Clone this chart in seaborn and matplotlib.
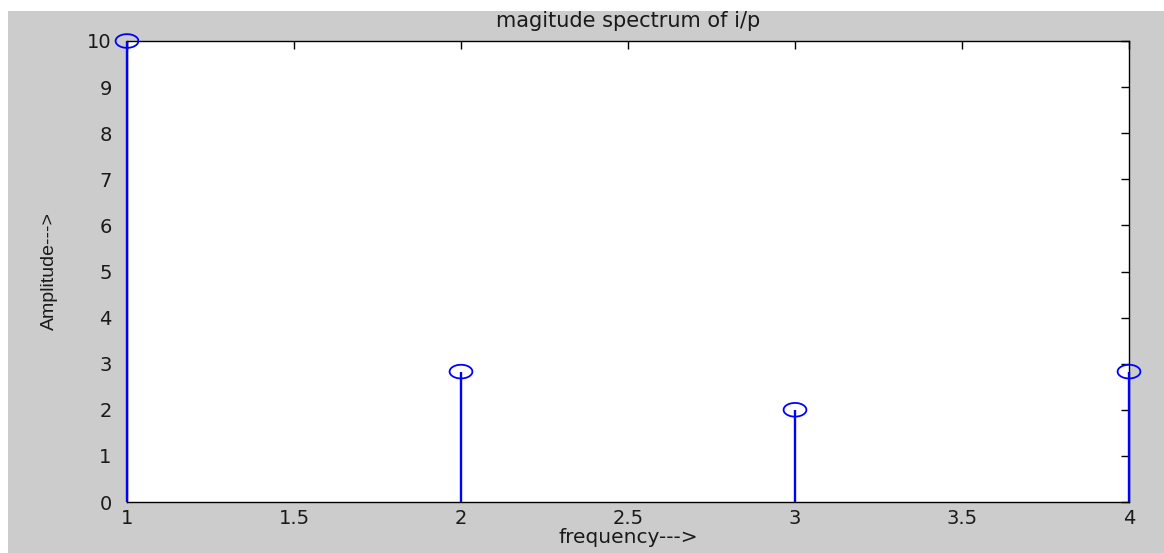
import numpy as np
import pandas as pd
import matplotlib
matplotlib.use("Agg")
import matplotlib.pyplot as plt
from matplotlib.patches import Rectangle
import seaborn as sns

frequency = [1, 2, 3, 4]
amplitude = [10.0, 2.8284, 2.0, 2.8284]
x_ticks = [1, 1.5, 2, 2.5, 3, 3.5, 4]
x_labels = ["1", "1.5", "2", "2.5", "3", "3.5", "4"]
y_ticks = list(range(0, 11))
title = "magitude spectrum of i/p"
xlabel = "frequency--->"
ylabel = "Amplitude--->"

sns.set_style("white")
plt.rcParams['font.family'] = ['DejaVu Sans']

df = pd.DataFrame({"frequency": frequency, "amplitude": amplitude})

W, H = 1164, 553
fig = plt.figure(figsize=(W / 100, H / 100), dpi=100, facecolor="white")
fig.patches.append(Rectangle((8 / W, 0), 1 - 8 / W, (H - 11) / H,
                             transform=fig.transFigure, facecolor="#cccccc",
                             edgecolor="none", zorder=-10))

left, right, top, bottom = 127, 1129, 41, 502
ax = fig.add_axes([left / W, (H - bottom) / H, (right - left) / W, (bottom - top) / H])
ax.set_facecolor("white")

# stems
ax.vlines(df["frequency"], 0, df["amplitude"], colors="#0000ff", linewidth=1.7,
          zorder=3, clip_on=False)

# elliptical marker (reference is horizontally stretched)
t = np.linspace(0, 2 * np.pi, 60)
ell = np.column_stack([np.cos(t), 0.6 * np.sin(t)])
sns.scatterplot(data=df, x="frequency", y="amplitude", ax=ax, marker=ell, s=270,
                facecolor="none", edgecolor="#0000ff", linewidth=1.3, zorder=4,
                clip_on=False, legend=False)

ax.set_xlim(1, 4)
ax.set_ylim(0, 10)
ax.set_xticks(x_ticks)
ax.set_xticklabels(x_labels)
ax.set_yticks(y_ticks)

for s in ax.spines.values():
    s.set_visible(True)
    s.set_color("black")
    s.set_linewidth(1.0)

txt = "#1a1a1a"
ax.tick_params(axis="both", direction="in", length=6, width=1.0, color="black",
               top=True, right=True, labelsize=14, labelcolor=txt)
ax.tick_params(axis="x", pad=5)
ax.tick_params(axis="y", pad=11)

ax.set_title(title, fontsize=15, color=txt, pad=10)
ax.set_xlabel(xlabel, fontsize=14.5, color=txt, labelpad=0)
ax.set_ylabel(ylabel, fontsize=14, color=txt, labelpad=21,
              family=['Liberation Sans', 'DejaVu Sans'])

fig.savefig("out.png", dpi=100, facecolor=fig.get_facecolor())
